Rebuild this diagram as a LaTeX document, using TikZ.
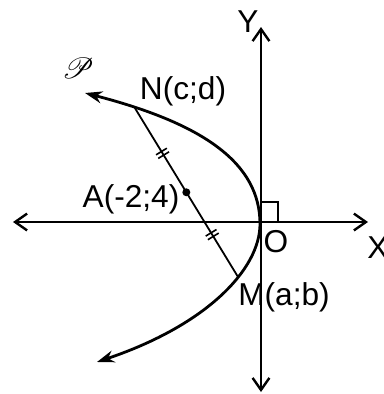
\documentclass[tikz,border=0pt]{standalone}
\usepackage{fontspec}
\setmainfont{Liberation Sans}
\usepackage{mathrsfs}
\usetikzlibrary{arrows.meta,calc}

\begin{document}
\begin{tikzpicture}[x=0.25mm,y=-0.25mm,
  axis/.style={line width=0.6mm,{Straight Barb[length=3mm,width=4.2mm]}-{Straight Barb[length=3mm,width=4.2mm]}},
  curve/.style={line width=0.7mm,{Stealth[length=4.3mm,width=3mm]}-{Stealth[length=4.3mm,width=3mm]}},
  chord/.style={line width=0.45mm},
  tickmark/.style={line width=0.4mm},
  lbl/.style={font=\fontsize{22.5}{27}\selectfont,inner sep=0pt,anchor=base}]
  \useasboundingbox (0,0) rectangle (384,394);

  % axes
  \coordinate (O) at (261,222);
  \coordinate (Xl) at (13,222);
  \coordinate (Xr) at (368,222);
  \coordinate (Yt) at (261,27);
  \coordinate (Yb) at (261,392);
  \draw[axis] (Xl) -- (Xr);
  \draw[axis] (Yb) -- (Yt);
  \draw[line width=0.45mm] ($(O)+(0,-20)$) -| ($(O)+(17,0)$);

  % parabola
  \draw[curve] (85,93) .. controls (205,124) and (260,164) .. coordinate[pos=0.15] (N)
    (260,224) .. controls (260,269) and (207,325) .. coordinate[pos=0.37] (M) (97,362);

  % chord NM with midpoint A
  \draw[chord] (N) -- (M);
  \coordinate (A) at ($(N)!0.5!(M)$);
  \fill (A) circle (4);
  \foreach \t in {0.27,0.75}{
    \coordinate (T) at ($(N)!\t!(M)$);
    \foreach \s in {-1.5pt,1.5pt}{
      \coordinate (Ts) at ($(T)!\s!(M)$);
      \draw[tickmark] ($(Ts)!4.5pt!90:(M)$) -- ($(Ts)!4.5pt!-90:(M)$);
    }
  }

  % labels
  \node[lbl] (Ylab) at (248,32) {Y};
  \node[lbl] (Olab) at (276,252) {O};
  \node[lbl,anchor=base west] (Xlab) at (367,258) {X};
  \node[lbl] (Nlab) at (183,99) {N(c;d)};
  \node[lbl] (Mlab) at (284,305) {M(a;b)};
  \node[lbl] (Alab) at (131,207) {A(-2;4)};
  \node[font=\fontsize{22}{24}\selectfont,inner sep=0pt] (Plab) at (78,68) {$\mathscr{P}$};
\end{tikzpicture}
\end{document}
